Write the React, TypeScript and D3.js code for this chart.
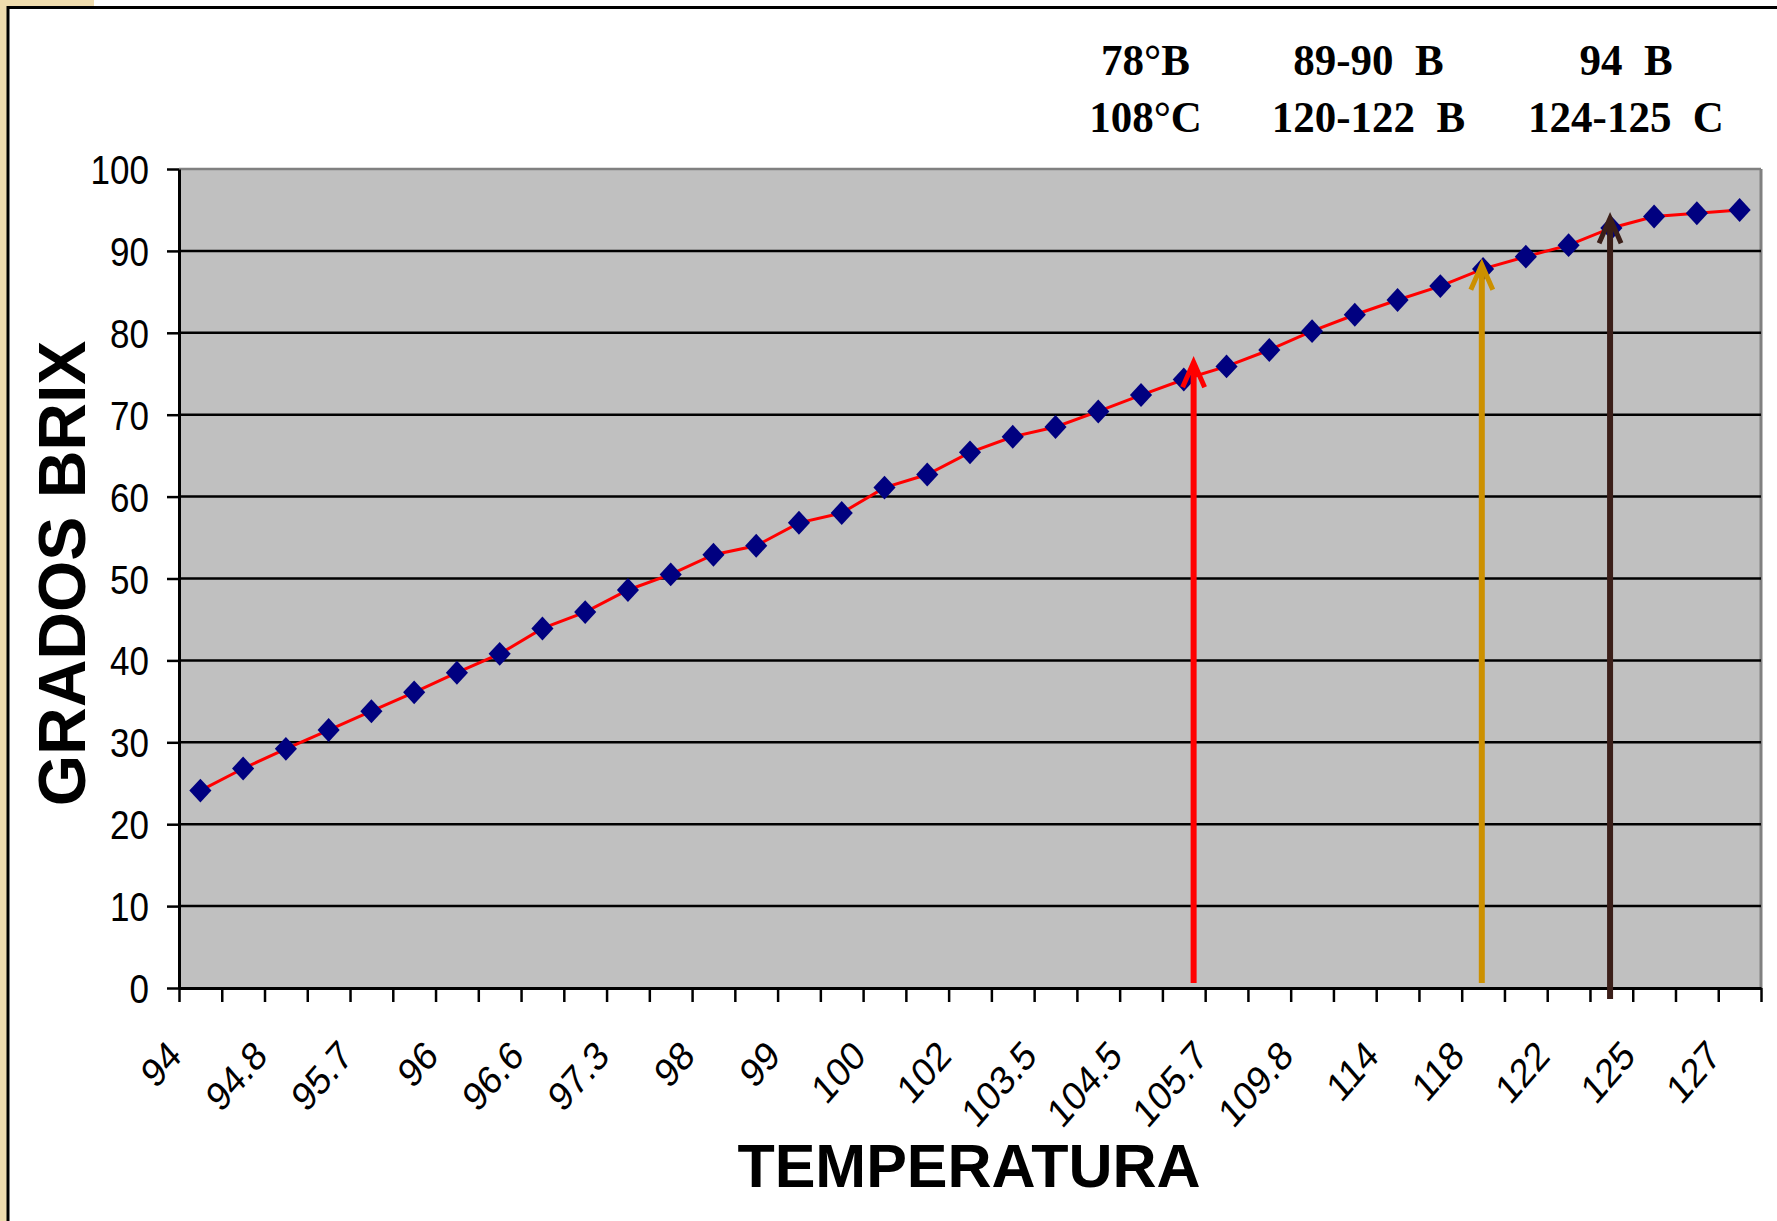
import React, { useEffect, useRef } from "react";
import * as d3 from "d3";

// grados brix per temperature reading (37 readings, every other one labelled)
const brix = [
  24.1, 26.8, 29.2, 31.5, 33.8, 36.1, 38.5, 40.8, 43.9, 45.9, 48.6, 50.5, 52.9,
  54.0, 56.8, 58.0, 61.1, 62.7, 65.4, 67.3, 68.5, 70.4, 72.4, 74.3, 75.9, 77.9,
  80.2, 82.2, 84.0, 85.7, 87.8, 89.3, 90.7, 92.8, 94.2, 94.6, 95.0,
];
const tempLabels = [
  "94", "94.8", "95.7", "96", "96.6", "97.3", "98", "99", "100", "102",
  "103.5", "104.5", "105.7", "109.8", "114", "118", "122", "125", "127",
];
const yTicks = [0, 10, 20, 30, 40, 50, 60, 70, 80, 90, 100];

// arrows: position in category units, brix value at the tip
const arrowPos = [23.73, 30.47, 33.47];
const arrowTip = [76.4, 88.3, 94.0];
const arrowColors = ["#ff0000", "#cc9000", "#3b1f19"];

const notesTop = ["78°B", "89-90  B", "94  B"];
const notesBottom = ["108°C", "120-122  B", "124-125  C"];

const W = 1777;
const H = 1221;
const margin = { top: 169, right: 16, bottom: 233, left: 179 };

const App = () => {
  const ref = useRef<SVGSVGElement>(null);

  useEffect(() => {
    drawChart();
  }, []);

  const drawChart = () => {
    const svg = d3.select(ref.current);
    svg.selectAll("*").remove();

    const x0 = margin.left;
    const x1 = W - margin.right;
    const y0 = H - margin.bottom;

    const x = d3.scaleLinear().domain([0, brix.length]).range([x0, x1]);
    const y = d3.scaleLinear().domain([0, 100]).range([y0, margin.top]);

    // background + frame
    svg.append("rect").attr("width", W).attr("height", H).attr("fill", "#fff");
    svg.append("rect").attr("x", 0).attr("y", 0).attr("width", 7).attr("height", H).attr("fill", "#efdcae");
    svg.append("rect").attr("x", 0).attr("y", 0).attr("width", 94).attr("height", 6).attr("fill", "#efdcae");
    svg
      .append("rect")
      .attr("x", 8)
      .attr("y", 7.5)
      .attr("width", W + 20)
      .attr("height", H + 20)
      .attr("fill", "#fff")
      .attr("stroke", "#000")
      .attr("stroke-width", 3);

    // plot area
    svg
      .append("rect")
      .attr("x", x0)
      .attr("y", margin.top)
      .attr("width", x1 - x0)
      .attr("height", y0 - margin.top)
      .attr("fill", "#c0c0c0");
    svg.append("line").attr("x1", x0).attr("x2", x1).attr("y1", margin.top).attr("y2", margin.top)
      .attr("stroke", "#808080").attr("stroke-width", 2.5);
    svg.append("line").attr("x1", x1).attr("x2", x1).attr("y1", margin.top).attr("y2", y0)
      .attr("stroke", "#808080").attr("stroke-width", 3);

    // gridlines
    svg
      .append("g")
      .selectAll("line")
      .data(yTicks.filter((t) => t > 0 && t < 100))
      .join("line")
      .attr("x1", x0)
      .attr("x2", x1)
      .attr("y1", (d) => y(d))
      .attr("y2", (d) => y(d))
      .attr("stroke", "#000")
      .attr("stroke-width", 2.5);

    // y axis
    const yAxis = svg
      .append("g")
      .attr("transform", `translate(${x0},0)`)
      .call(d3.axisLeft(y).tickValues(yTicks).tickSize(12).tickSizeOuter(0).tickFormat(() => ""));
    yAxis.select(".domain").attr("stroke-width", 3);
    yAxis.selectAll(".tick line").attr("stroke-width", 2.5);

    svg
      .append("g")
      .selectAll("text")
      .data(yTicks)
      .join("text")
      .attr("transform", (d) => `translate(149,${y(d) + 15}) scale(1,1.16)`)
      .attr("text-anchor", "end")
      .attr("font-family", "'Liberation Sans', Arial, sans-serif")
      .attr("font-size", 35)
      .attr("fill", "#000")
      .text((d) => d);

    // x axis (ticks between categories)
    const xAxis = svg
      .append("g")
      .attr("transform", `translate(0,${y0})`)
      .call(
        d3
          .axisBottom(x)
          .tickValues(d3.range(brix.length + 1))
          .tickSize(14)
          .tickSizeOuter(0)
          .tickFormat(() => "")
      );
    xAxis.select(".domain").attr("stroke-width", 3);
    xAxis.selectAll(".tick line").attr("stroke-width", 2.5);

    svg
      .append("g")
      .selectAll("text")
      .data(tempLabels)
      .join("text")
      .attr("transform", (d, i) => `translate(${x(i * 2 + 0.5) - 17},${y0 + 70}) scale(1,1.16) rotate(-45)`)
      .attr("text-anchor", "end")
      .attr("font-family", "'Liberation Sans', Arial, sans-serif")
      .attr("font-size", 35)
      .attr("fill", "#000")
      .text((d) => d);

    // series
    const line = d3
      .line<number>()
      .x((d, i) => x(i + 0.5))
      .y((d) => y(d));
    svg.append("path").datum(brix).attr("d", line).attr("fill", "none").attr("stroke", "#ff0000").attr("stroke-width", 3);

    const diamond = d3.symbol(d3.symbolSquare, 245);
    svg
      .append("g")
      .selectAll("path")
      .data(brix)
      .join("path")
      .attr("d", diamond)
      .attr("transform", (d, i) => `translate(${x(i + 0.5)},${y(d)}) scale(1,1.08) rotate(45)`)
      .attr("fill", "#000080");

    // arrows
    const arrows = svg
      .append("g")
      .selectAll("g")
      .data(arrowPos.map((p, i) => ({ p, tip: arrowTip[i], color: arrowColors[i], i })))
      .join("g");
    arrows
      .append("line")
      .attr("x1", (d) => x(d.p))
      .attr("x2", (d) => x(d.p))
      .attr("y1", (d) => (d.i === 2 ? y0 + 11 : y0 - 5))
      .attr("y2", (d) => y(d.tip) + 2)
      .attr("stroke", (d) => d.color)
      .attr("stroke-width", 6);
    arrows
      .append("path")
      .attr("d", (d) => {
        const ax = x(d.p);
        const ay = y(d.tip);
        return `M${ax - 11},${ay + 25}L${ax},${ay}L${ax + 11},${ay + 25}`;
      })
      .attr("fill", "none")
      .attr("stroke", (d) => d.color)
      .attr("stroke-width", 5);

    // notes above the plot
    const noteX = [1145.5, 1368.5, 1626];
    const keepSpaces = (s: string) => s.replace(/ /g, "\u00a0");
    const notes = svg
      .append("g")
      .attr("font-family", "'Liberation Serif', 'Times New Roman', serif")
      .attr("font-weight", "bold")
      .attr("font-size", 43)
      .attr("text-anchor", "middle");
    notes
      .selectAll("text.top")
      .data(notesTop)
      .join("text")
      .attr("class", "top")
      .attr("transform", (d, i) => `translate(${noteX[i]},75) scale(1,1.05)`)
      .text((d) => keepSpaces(d));
    notes
      .selectAll("text.bottom")
      .data(notesBottom)
      .join("text")
      .attr("class", "bottom")
      .attr("transform", (d, i) => `translate(${noteX[i]},131.5) scale(1,1.05)`)
      .text((d) => keepSpaces(d));

    // axis titles
    svg
      .append("text")
      .attr("transform", `translate(85,573.5) rotate(-90)`)
      .attr("text-anchor", "middle")
      .attr("font-family", "'Liberation Sans', Arial, sans-serif")
      .attr("font-weight", "bold")
      .attr("font-size", 66)
      .text("GRADOS BRIX");
    svg
      .append("text")
      .attr("x", 969)
      .attr("y", 1187)
      .attr("text-anchor", "middle")
      .attr("font-family", "'Liberation Sans', Arial, sans-serif")
      .attr("font-weight", "bold")
      .attr("font-size", 61)
      .text("TEMPERATURA");
  };

  return (
    <svg
      ref={ref}
      width={W}
      height={H}
      style={{ position: "absolute", left: 0, top: 0, display: "block" }}
    />
  );
};

export default App;
